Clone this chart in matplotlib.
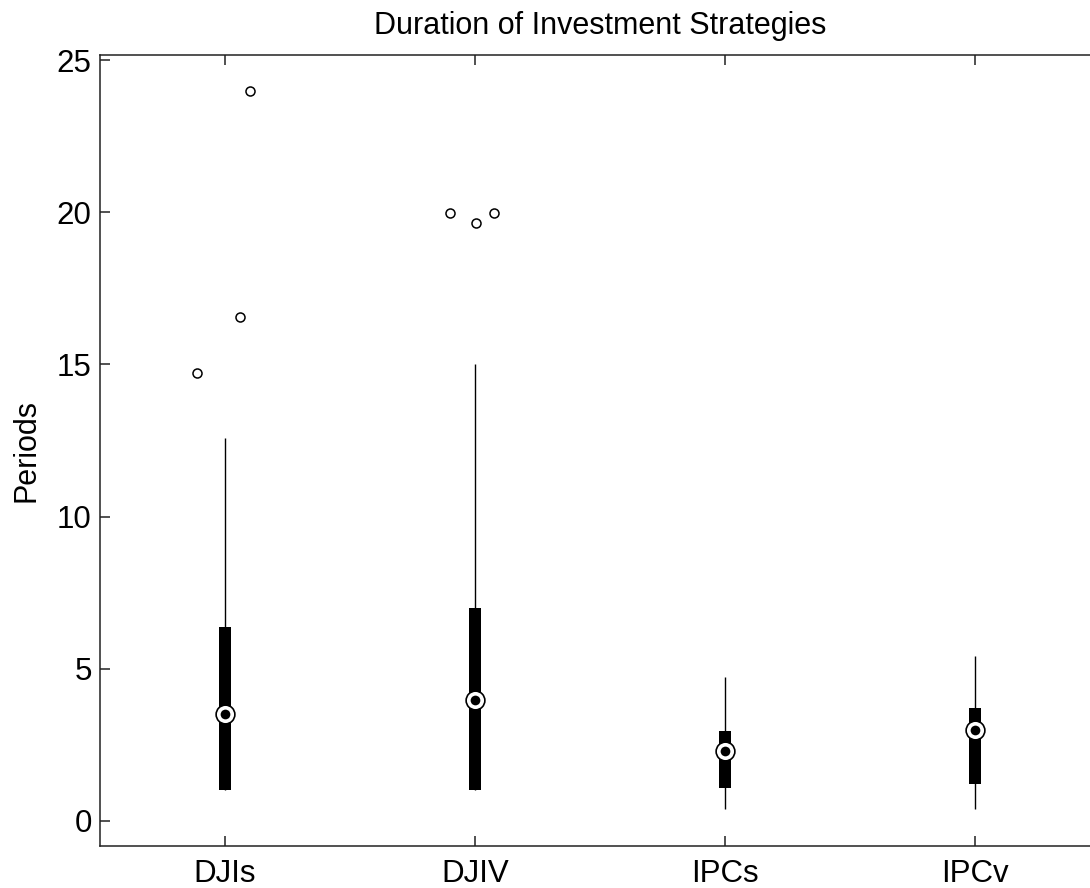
import matplotlib
matplotlib.use("Agg")
import matplotlib.pyplot as plt
import numpy as np

plt.rcParams["font.family"] = ["Liberation Sans", "DejaVu Sans"]

# Summary statistics per strategy (in periods)
strategies = ["DJIs", "DJIV", "IPCs", "IPCv"]
whisker_low = [1.0, 1.0, 0.37, 0.38]
q1 = [1.0, 1.0, 1.08, 1.21]
medians = [3.5, 3.96, 2.29, 2.98]
q3 = [6.37, 6.99, 2.96, 3.71]
whisker_high = [12.57, 15.0, 4.71, 5.41]

# Outliers: owning group, value, horizontal jitter
outlier_group = [0, 0, 0, 1, 1, 1]
outlier_value = [14.73, 16.56, 24.0, 19.98, 19.66, 19.99]
outlier_jitter = [-0.113, 0.061, 0.10, -0.10, 0.004, 0.076]

W, H, DPI = 1090, 888, 100
fig = plt.figure(figsize=(W / DPI, H / DPI), dpi=DPI)
ax = fig.add_axes([100 / W, 1 - 846 / H, 1000 / W, (846 - 55) / H])

pos = np.arange(1, len(strategies) + 1)

# whiskers
ax.vlines(pos, whisker_low, whisker_high, colors="black", linewidth=1.0, zorder=2)
# boxes (compact style: thick bars)
ax.bar(pos, np.array(q3) - np.array(q1), bottom=q1, width=0.05,
       color="black", edgecolor="none", zorder=3)
# medians: white circle with black dot
ax.plot(pos, medians, linestyle="none", marker="o", markersize=13.5,
        markerfacecolor="white", markeredgecolor="black", markeredgewidth=1.2, zorder=4)
ax.plot(pos, medians, linestyle="none", marker="o", markersize=7.0,
        markerfacecolor="black", markeredgecolor="black", markeredgewidth=0, zorder=5)
# outliers
ox = pos[np.array(outlier_group)] + np.array(outlier_jitter)
ax.plot(ox, outlier_value, linestyle="none", marker="o", markersize=6.5,
        markerfacecolor="none", markeredgecolor="black", markeredgewidth=1.1, zorder=4)

ax.set_xlim(0.5, 4.5)
ax.set_ylim(-0.83, 25.17)
ax.set_xticks(pos)
ax.set_xticklabels(strategies)
ax.set_yticks([0, 5, 10, 15, 20, 25])

for s in ax.spines.values():
    s.set_linewidth(1.1)
    s.set_color("#222222")

ax.tick_params(axis="both", direction="in", length=7.5, width=1.1, color="#222222",
               labelsize=22.5, top=True, right=True)
ax.tick_params(axis="x", pad=9)
ax.tick_params(axis="y", pad=6)

ax.set_title("Duration of Investment Strategies", fontsize=22, pad=15)
ax.set_ylabel("Periods", fontsize=22, labelpad=11)

fig.savefig("out.png", dpi=DPI, facecolor="white")
